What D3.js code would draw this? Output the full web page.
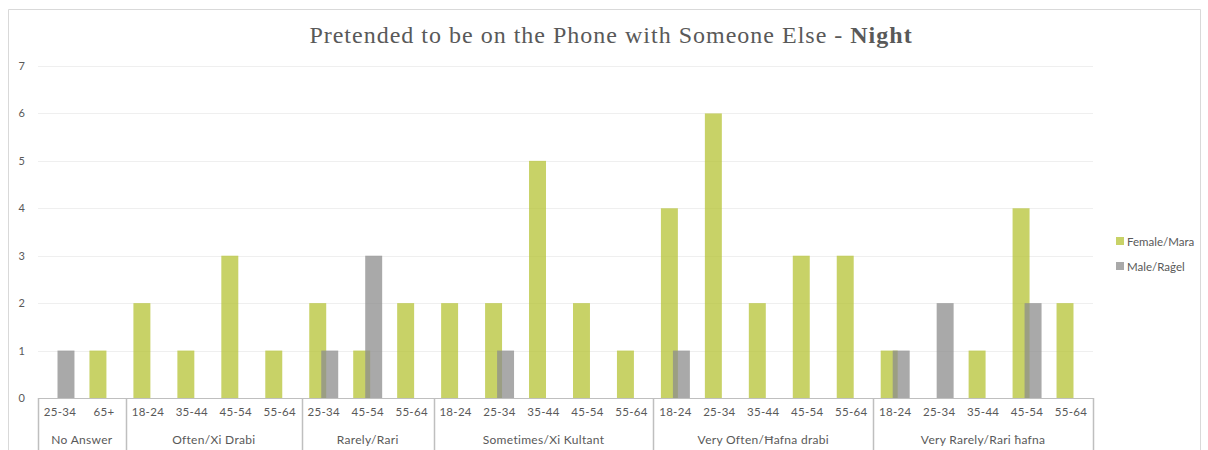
<!DOCTYPE html>
<html><head><meta charset="utf-8">
<script src="https://cdn.jsdelivr.net/npm/d3@7"></script>
<style>body{margin:0;background:#fff}svg{display:block}</style>
</head><body>
<svg id="c" width="1208" height="450"></svg>
<script>
const groups = ["No Answer","Often/Xi Drabi","Rarely/Rari","Sometimes/Xi Kultant","Very Often/Ħafna drabi","Very Rarely/Rari ħafna"];
const groupAges = [
  ["25-34","65+"],
  ["18-24","35-44","45-54","55-64"],
  ["25-34","45-54","55-64"],
  ["18-24","25-34","35-44","45-54","55-64"],
  ["18-24","25-34","35-44","45-54","55-64"],
  ["18-24","25-34","35-44","45-54","55-64"]
];
const female = [0,1, 2,1,3,1, 2,1,2, 2,2,5,2,1, 4,6,2,3,3, 1,0,1,4,2];
const male   = [1,0, 0,0,0,0, 1,3,0, 0,1,0,0,0, 1,0,0,0,0, 1,2,0,2,0];
const yTicks = [0,1,2,3,4,5,6,7];
const seriesNames = ["Female/Mara","Male/Raġel"];
const colors = ["#b5c334","#8c8c8c"];

const svg = d3.select("#c");
const txt = "#595959";
const font = "Lato, 'Open Sans', sans-serif";

// categories
const cats = [];
groups.forEach((g,gi)=>groupAges[gi].forEach(a=>cats.push({key:g+"|"+a,group:g,age:a})));
cats.forEach((c,i)=>{c.f=female[i];c.m=male[i];});

const x = d3.scaleBand().domain(cats.map(c=>c.key)).range([38,1093]).padding(0);
const y = d3.scaleLinear().domain([0,7]).range([398,66]);
const bw = x.bandwidth();

// outer border
svg.append("path").attr("d","M8.5,450 V9.5 H1200.5 V450").attr("fill","none").attr("stroke","#d9d9d9");

// gridlines
svg.append("g").selectAll("line").data(yTicks.filter(t=>t>0)).join("line")
  .attr("x1",38).attr("x2",1093).attr("y1",d=>Math.round(y(d))+0.5).attr("y2",d=>Math.round(y(d))+0.5)
  .attr("stroke","#efefef");

// y labels
svg.append("g").selectAll("text").data(yTicks).join("text")
  .attr("x",25).attr("y",d=>y(d)+4).attr("text-anchor","end")
  .attr("font-family",font).attr("font-size",11).attr("fill",txt).text(d=>d);

// bars
const fw = bw*0.386, off = bw*0.273;
svg.append("g").selectAll("rect").data(cats.filter(c=>c.f>0)).join("rect")
  .attr("x",c=>x(c.key)+bw/2-(fw+off)/2).attr("width",fw)
  .attr("y",c=>y(c.f)).attr("height",c=>y(0)-y(c.f))
  .attr("fill",colors[0]).attr("fill-opacity",0.75);
svg.append("g").selectAll("rect").data(cats.filter(c=>c.m>0)).join("rect")
  .attr("x",c=>x(c.key)+bw/2-(fw+off)/2+off).attr("width",fw)
  .attr("y",c=>y(c.m)).attr("height",c=>y(0)-y(c.m))
  .attr("fill",colors[1]).attr("fill-opacity",0.75);

// baseline
svg.append("line").attr("x1",38).attr("x2",1093).attr("y1",398.5).attr("y2",398.5).attr("stroke","#bfbfbf");

// age labels
svg.append("g").selectAll("text").data(cats).join("text")
  .attr("x",c=>x(c.key)+bw/2).attr("y",416).attr("text-anchor","middle")
  .attr("font-family",font).attr("font-size",11.5).attr("letter-spacing",0.3).attr("fill",txt).text(c=>c.age);

// group dividers and labels
const gExt = groups.map((g,gi)=>{
  const ks = cats.filter(c=>c.group===g);
  return {g, x0:x(ks[0].key), x1:x(ks[ks.length-1].key)+bw};
});
const bounds = [gExt[0].x0, ...gExt.map(e=>e.x1)];
svg.append("g").selectAll("line").data(bounds).join("line")
  .attr("x1",d=>Math.round(d)+0.5).attr("x2",d=>Math.round(d)+0.5).attr("y1",398).attr("y2",450)
  .attr("stroke","#bfbfbf").attr("stroke-width",1.5);
svg.append("g").selectAll("text").data(gExt).join("text")
  .attr("x",e=>(e.x0+e.x1)/2).attr("y",444).attr("text-anchor","middle")
  .attr("font-family",font).attr("font-size",12).attr("letter-spacing",0.3).attr("fill",txt).text(e=>e.g);

// title
const t = svg.append("text").attr("x",611).attr("y",43).attr("text-anchor","middle")
  .attr("font-family","'Liberation Serif', 'DejaVu Serif', serif").attr("font-size",24).attr("fill",txt)
  .attr("letter-spacing",1.0);
t.append("tspan").text("Pretended to be on the Phone with Someone Else - ");
t.append("tspan").attr("font-weight","bold").text("Night");

// legend
const lg = svg.append("g").selectAll("g").data(seriesNames).join("g")
  .attr("transform",(d,i)=>`translate(1116,${237+i*25})`);
lg.append("rect").attr("width",8).attr("height",8).attr("fill",(d,i)=>colors[i]).attr("fill-opacity",0.75);
lg.append("text").attr("x",11).attr("y",8.5).attr("font-family",font).attr("font-size",11.5).attr("fill",txt).text(d=>d);
</script>
</body></html>
